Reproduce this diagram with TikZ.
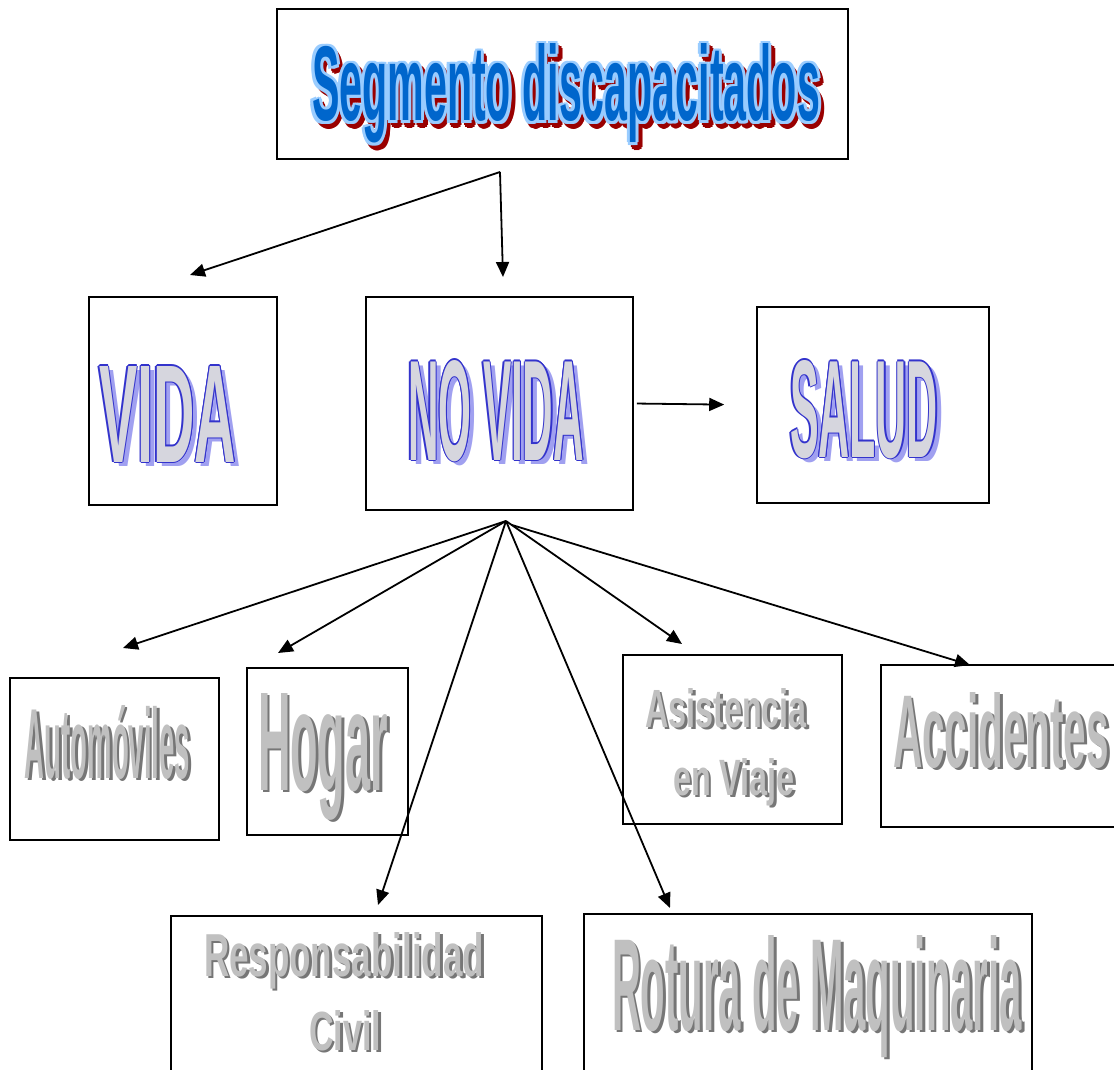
\documentclass[tikz,border=0pt]{standalone}
\usepackage{xcolor}
\usepackage{fontspec}
\setmainfont{Liberation Sans}
\usepackage{tikz}
\usetikzlibrary{arrows.meta}

\definecolor{titleblue}{RGB}{0,102,204}
\definecolor{titleedge}{RGB}{153,204,255}
\definecolor{titleshade}{RGB}{153,0,0}
\definecolor{artblue}{RGB}{51,51,204}
\definecolor{artfill}{RGB}{214,214,222}
\definecolor{artshade}{RGB}{160,160,240}
\definecolor{greyfill}{RGB}{192,192,192}
\definecolor{greyshade}{RGB}{118,118,118}

\tikzstyle{box} = [rectangle, draw=black, line width=0.8pt, inner sep=0pt]
\tikzstyle{art} = [inner sep=0pt, outer sep=0pt, anchor=base west]
\tikzstyle{arrow} = [line width=0.9pt, -{Triangle[length=7.5pt,width=6.5pt]}]

% word art helpers
\newlength\artw
\newcommand\artcopy[4]{\makebox[0pt][l]{\hspace*{#1}\raisebox{#2}{\textcolor{#3}{#4}}}}
\newcommand\artring[4]{%
  \artcopy{\dimexpr#1+\artw\relax}{\dimexpr#2\relax}{#3}{#4}%
  \artcopy{\dimexpr#1-\artw\relax}{\dimexpr#2\relax}{#3}{#4}%
  \artcopy{\dimexpr#1\relax}{\dimexpr#2+\artw\relax}{#3}{#4}%
  \artcopy{\dimexpr#1\relax}{\dimexpr#2-\artw\relax}{#3}{#4}%
  \artcopy{\dimexpr#1+.7\artw\relax}{\dimexpr#2+.7\artw\relax}{#3}{#4}%
  \artcopy{\dimexpr#1+.7\artw\relax}{\dimexpr#2-.7\artw\relax}{#3}{#4}%
  \artcopy{\dimexpr#1-.7\artw\relax}{\dimexpr#2+.7\artw\relax}{#3}{#4}%
  \artcopy{\dimexpr#1-.7\artw\relax}{\dimexpr#2-.7\artw\relax}{#3}{#4}}
\newcommand\titleart[1]{{\setlength\artw{1.5pt}%
  \artring{1.8pt}{-2.2pt}{titleshade}{#1}\artcopy{1.8pt}{-2.2pt}{titleshade}{#1}%
  \artring{0pt}{0pt}{titleedge}{#1}\textcolor{titleblue}{#1}}}
\newcommand\bluart[1]{{\setlength\artw{0.6pt}%
  \artcopy{2.6pt}{-2.4pt}{artshade}{#1}%
  \artring{0pt}{0pt}{artblue}{#1}\textcolor{artfill}{#1}}}
\newcommand\greyart[1]{{%
  \artcopy{1.4pt}{-1.4pt}{greyshade}{#1}\textcolor{greyfill}{#1}}}
\newcommand\squeeze[3]{\resizebox{#1}{#2}{\bfseries #3}}

\begin{document}
\begin{tikzpicture}[x=0.5pt, y=-0.5pt]
    \useasboundingbox (0,0) rectangle (1114,1070);

    % Boxes
    \node (title) [box, minimum width=285.5pt, minimum height=75pt] at (562.5,84) {};
    \node (vida) [box, minimum width=94pt, minimum height=104pt] at (183,401) {};
    \node (novida) [box, minimum width=133.5pt, minimum height=106.5pt] at (499.5,403.5) {};
    \node (salud) [box, minimum width=116pt, minimum height=98pt] at (873,405) {};
    \node (autos) [box, minimum width=104.5pt, minimum height=81pt] at (114.5,759) {};
    \node (hogar) [box, minimum width=80.5pt, minimum height=83.5pt] at (327.5,751.5) {};
    \node (asist) [box, minimum width=109.5pt, minimum height=84.5pt] at (732.5,739.5) {};
    \node (accid) [box, minimum width=119.5pt, minimum height=81pt] at (1000.5,746) {};
    \node (resp) [box, minimum width=185.5pt, minimum height=82pt] at (356.5,998) {};
    \node (rotura) [box, minimum width=224pt, minimum height=83pt] at (808,997) {};

    % Texts
    \node (titletxt) [art] at (312,121) {\titleart{\squeeze{254pt}{38.5pt}{Segmento discapacitados}}};
    \node (vidatxt) [art] at (99,462) {\bluart{\squeeze{68.5pt}{48pt}{VIDA}}};
    \node (novidatxt) [art] at (408,460) {\bluart{\squeeze{88pt}{50pt}{NO VIDA}}};
    \node (saludtxt) [art] at (790,457) {\bluart{\squeeze{74pt}{48.5pt}{SALUD}}};
    \node (autostxt) [art] at (25,778) {\greyart{\squeeze{82.5pt}{36.5pt}{Automóviles}}};
    \node (hogartxt) [art] at (258,790) {\greyart{\squeeze{65pt}{48.5pt}{Hogar}}};
    \node (asisttxt) [art] at (645,727) {\greyart{\squeeze{81pt}{19.5pt}{Asistencia}}};
    \node (viajetxt) [art] at (673,795) {\greyart{\squeeze{61pt}{18.5pt}{en Viaje}}};
    \node (accidtxt) [art] at (893,767) {\greyart{\squeeze{108pt}{37.5pt}{Accidentes}}};
    \node (resptxt) [art] at (204,976) {\greyart{\squeeze{140pt}{22pt}{Responsabilidad}}};
    \node (civiltxt) [art] at (309,1050) {\greyart{\squeeze{36pt}{20pt}{Civil}}};
    \node (roturatxt) [art] at (612,1030) {\greyart{\squeeze{205pt}{47.5pt}{Rotura de Maquinaria}}};

    % Arrow ends
    \coordinate (topfork) at (500,172);
    \coordinate (fork) at (506,521);
    \coordinate (tipvida) at (190,275);
    \coordinate (tipnovida) at (503,277);
    \coordinate (tipautos) at (123,648);
    \coordinate (tiphogar) at (278,653);
    \coordinate (tipresp) at (378,905);
    \coordinate (tiprotura) at (670,908);
    \coordinate (tipasist) at (682,644);
    \coordinate (tipaccid) at (970,665);

    % Arrows
    \draw [arrow] (topfork) -- (tipvida);
    \draw [arrow] (topfork) -- (tipnovida);
    \draw [arrow, shorten <=1.5pt, shorten >=16pt] (novida.east) -- (salud.west);
    \draw [arrow] (fork) -- (tipautos);
    \draw [arrow] (fork) -- (tiphogar);
    \draw [arrow] (fork) -- (tipresp);
    \draw [arrow] (fork) -- (tiprotura);
    \draw [arrow] (fork) -- (tipasist);
    \draw [arrow] ([xshift=3pt,yshift=-2pt]fork) -- (tipaccid);

\end{tikzpicture}
\end{document}
